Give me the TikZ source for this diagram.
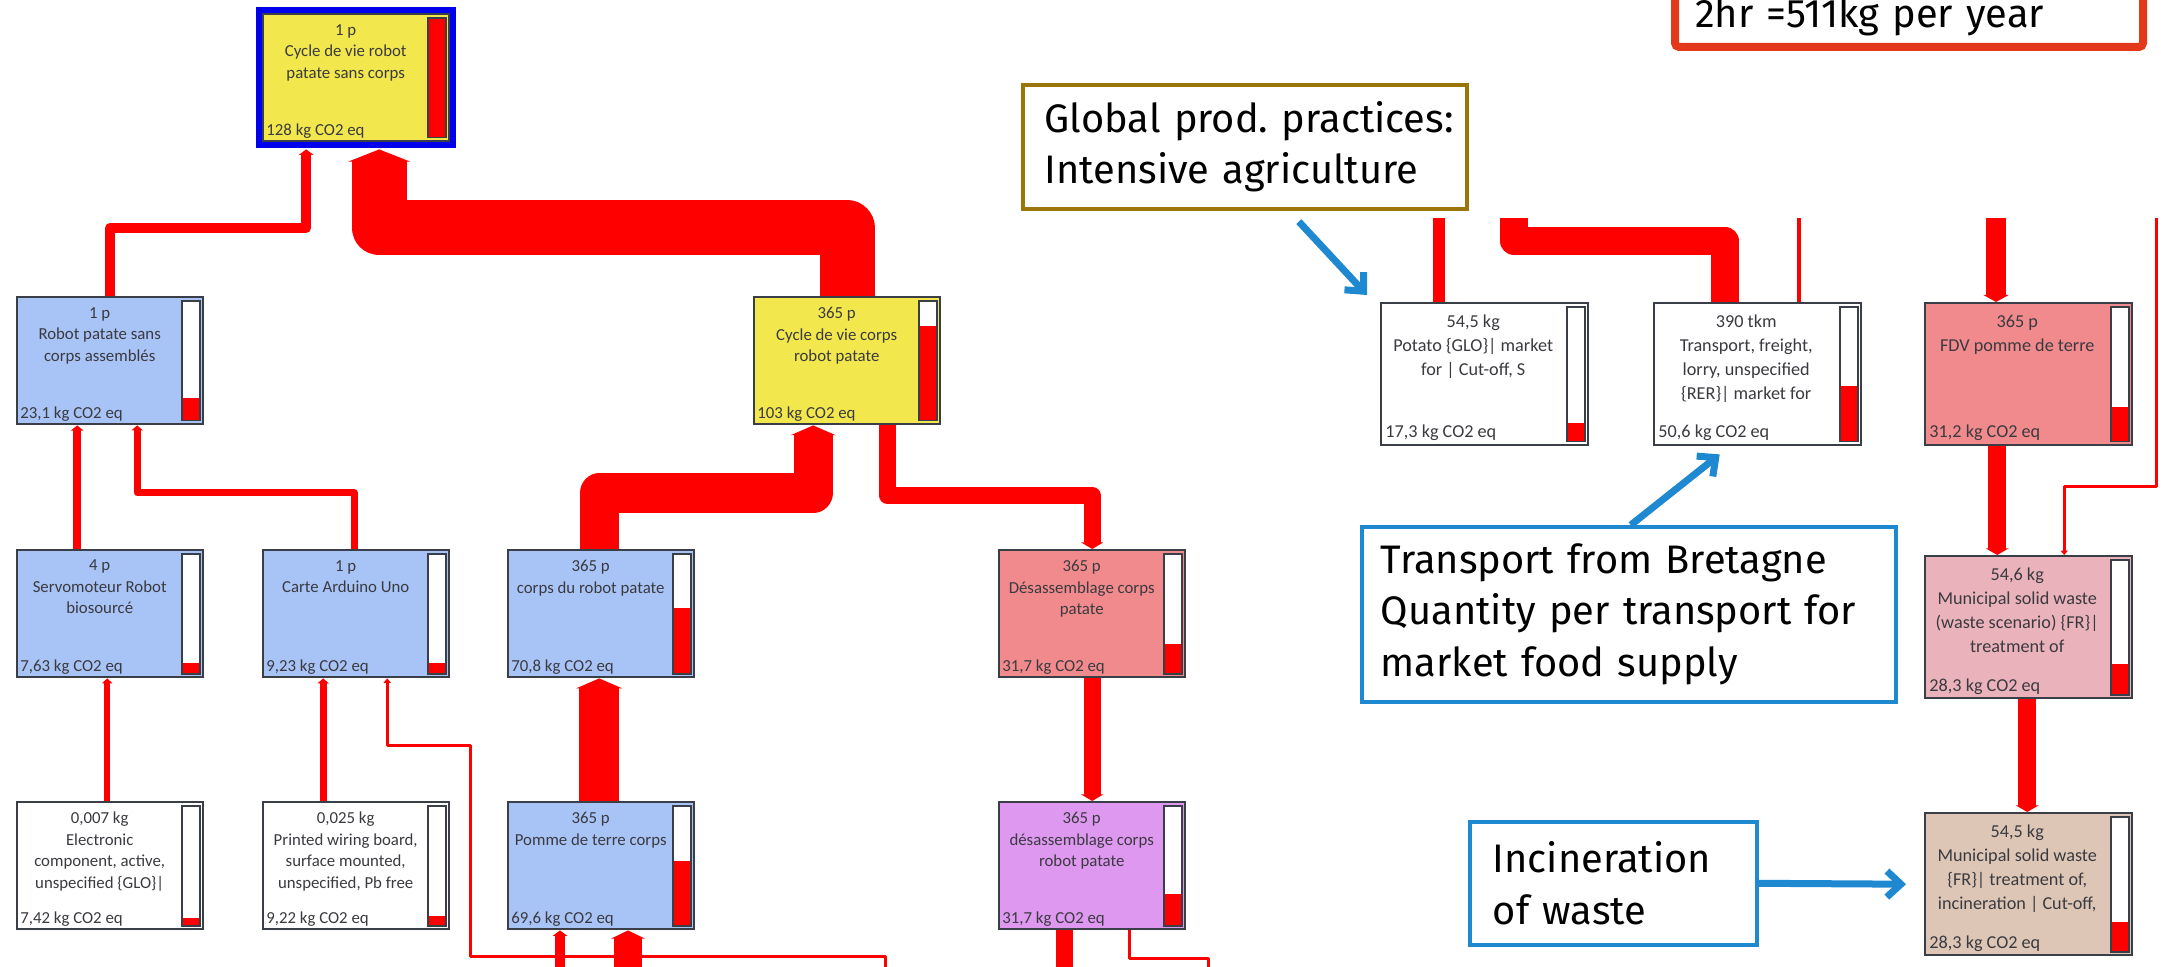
\documentclass[tikz,border=0pt]{standalone}
\usepackage{fontspec}
\setmainfont{Carlito}
\newfontfamily\notefont{Fira Sans}
\usetikzlibrary{arrows.meta, calc, positioning}
\frenchspacing

\definecolor{flowred}{RGB}{255,0,0}
\definecolor{boxline}{RGB}{58,62,70}
\definecolor{boxtext}{RGB}{58,58,64}
\definecolor{lcayellow}{RGB}{242,231,76}
\definecolor{lcablue}{RGB}{168,195,245}
\definecolor{lcasalmon}{RGB}{241,138,140}
\definecolor{lcapurple}{RGB}{222,152,240}
\definecolor{lcapink}{RGB}{234,178,186}
\definecolor{lcatan}{RGB}{221,198,182}
\definecolor{selblue}{RGB}{0,0,235}
\definecolor{noteblue}{RGB}{30,136,208}
\definecolor{noteolive}{RGB}{154,118,8}
\definecolor{notered}{RGB}{228,56,26}

\begin{document}
\begin{tikzpicture}[x=0.5pt,y=-0.5pt,
    proc/.style 2 args={draw=boxline,line width=1.2pt,fill=#1,anchor=north west,inner sep=0pt,
      path picture={
        \fill[white] ([xshift=-10.8pt,yshift=-1.8pt]path picture bounding box.north east) rectangle ([xshift=-1.8pt,yshift=1.8pt]path picture bounding box.south east);
        \fill[flowred] ([xshift=-10.8pt,yshift=1.8pt]path picture bounding box.south east) rectangle ($([xshift=-1.8pt,yshift=1.8pt]path picture bounding box.south east)!#2!([xshift=-1.8pt,yshift=-1.8pt]path picture bounding box.north east)$);
        \draw[boxline,line width=0.9pt] ([xshift=-10.8pt,yshift=-1.8pt]path picture bounding box.north east) rectangle ([xshift=-1.8pt,yshift=1.8pt]path picture bounding box.south east);
      }},
    sizea/.style={minimum width=93pt,minimum height=63.5pt},
    sizeb/.style={minimum width=103.5pt,minimum height=71pt},
    flow/.style={draw=flowred,line join=round},
    feed/.style={flow,-{Triangle[length=2pt 0.15,width=2pt 1.05]}},
    note/.style={draw=#1,line width=1.8pt,fill=white,anchor=north west,align=left,inner ysep=0pt,
      font={\notefont\fontsize{19.9}{25.8}\selectfont}},
    hint/.style={draw=noteblue,line width=3.5pt,-{Straight Barb[length=7pt,width=13pt]}}]
  \tikzset{desca/.style={anchor=north,align=center,inner sep=0pt,text=boxtext,
      font=\fontsize{8.4}{10.75}\selectfont,xshift=-5.25pt,yshift=-5.4pt},
    co2a/.style={anchor=base west,inner sep=0pt,text=boxtext,
      font=\fontsize{8.4}{10}\selectfont,xshift=2pt,yshift=3.5pt},
    descb/.style={anchor=north,align=center,inner sep=0pt,text=boxtext,
      font=\fontsize{9.1}{12}\selectfont,xshift=-5.75pt,yshift=-6.3pt},
    co2b/.style={anchor=base west,inner sep=0pt,text=boxtext,
      font=\fontsize{9.1}{10}\selectfont,xshift=2.5pt,yshift=4.2pt}}

  \path[use as bounding box] (0,0) rectangle (2161,967);
  \clip (0,0) rectangle (2161,967);

  % process tree, left part
  \node[proc={lcayellow}{1},sizea,preaction={draw=selblue,line width=7pt},
    label={[desca]north:{1 p\\Cycle de vie robot\\patate sans corps}},
    label={[co2a]south west:{128 kg CO2 eq}}] (cvrobot) at (262,13) {};

  \node[proc={lcablue}{0.19},sizea,
    label={[desca]north:{1 p\\Robot patate sans\\corps assemblés}},
    label={[co2a]south west:{23,1 kg CO2 eq}}] (robot) at (16,296) {};
  \node[proc={lcayellow}{0.79},sizea,
    label={[desca]north:{365 p\\Cycle de vie corps\\robot patate}},
    label={[co2a]south west:{103 kg CO2 eq}}] (cvcorps) at (753,296) {};

  \node[proc={lcablue}{0.09},sizea,
    label={[desca]north:{4 p\\Servomoteur Robot\\biosourcé}},
    label={[co2a]south west:{7,63 kg CO2 eq}}] (servo) at (16,549) {};
  \node[proc={lcablue}{0.09},sizea,
    label={[desca]north:{1 p\\Carte Arduino Uno}},
    label={[co2a]south west:{9,23 kg CO2 eq}}] (arduino) at (262,549) {};
  \node[proc={lcablue}{0.55},sizea,
    label={[desca]north:{365 p\\corps du robot patate}},
    label={[co2a]south west:{70,8 kg CO2 eq}}] (corps) at (507,549) {};
  \node[proc={lcasalmon}{0.25},sizea,
    label={[desca]north:{365 p\\Désassemblage corps\\patate}},
    label={[co2a]south west:{31,7 kg CO2 eq}}] (desass) at (998,549) {};

  \node[proc={white}{0.06},sizea,
    label={[desca]north:{0,007 kg\\Electronic\\component, active,\\unspecified \{GLO\}|}},
    label={[co2a]south west:{7,42 kg CO2 eq}}] (elec) at (16,801) {};
  \node[proc={white}{0.08},sizea,
    label={[desca]north:{0,025 kg\\Printed wiring board,\\surface mounted,\\unspecified, Pb free}},
    label={[co2a]south west:{9,22 kg CO2 eq}}] (printed) at (262,801) {};
  \node[proc={lcablue}{0.54},sizea,
    label={[desca]north:{365 p\\Pomme de terre corps}},
    label={[co2a]south west:{69,6 kg CO2 eq}}] (pomme) at (507,801) {};
  \node[proc={lcapurple}{0.26},sizea,
    label={[desca]north:{365 p\\désassemblage corps\\robot patate}},
    label={[co2a]south west:{31,7 kg CO2 eq}}] (desrobot) at (998,801) {};

  % process tree, right part
  \node[proc={white}{0.14},sizeb,
    label={[descb]north:{54,5 kg\\Potato \{GLO\}| market\\for | Cut-off, S}},
    label={[co2b]south west:{17,3 kg CO2 eq}}] (potato) at (1380,302) {};
  \node[proc={white}{0.41},sizeb,
    label={[descb]north:{390 tkm\\Transport, freight,\\lorry, unspecified\\\{RER\}| market for}},
    label={[co2b]south west:{50,6 kg CO2 eq}}] (transport) at (1653,302) {};
  \node[proc={lcasalmon}{0.26},sizeb,
    label={[descb]north:{365 p\\FDV pomme de terre}},
    label={[co2b]south west:{31,2 kg CO2 eq}}] (fdv) at (1924,302) {};
  \node[proc={lcapink}{0.23},sizeb,
    label={[descb]north:{54,6 kg\\Municipal solid waste\\(waste scenario) \{FR\}|\\treatment of}},
    label={[co2b]south west:{28,3 kg CO2 eq}}] (msw) at (1924,555) {};
  \node[proc={lcatan}{0.22},sizeb,
    label={[descb]north:{54,5 kg\\Municipal solid waste\\\{FR\}| treatment of,\\incineration | Cut-off,}},
    label={[co2b]south west:{28,3 kg CO2 eq}}] (incin) at (1924,812) {};

  % free ends of flows leaving the picture
  \coordinate (arin) at (885,967);
  \coordinate (pin1) at (560,967);
  \coordinate (pin2) at (628,967);
  \coordinate (dout1) at (1064,967);
  \coordinate (dout2) at (1208,967);
  \coordinate (trout) at (1514,218);
  \coordinate (poout) at (1439,218);
  \coordinate (trin) at (1799,218);
  \coordinate (fdvin) at (1996,218);
  \coordinate (mswin) at (2156,218);

  % flows
  \draw[feed,line width=5pt] (robot.north) -- ++(0,-68) -| ([xshift=-25pt,yshift=-3.5pt]cvrobot.south);
  \draw[feed,line width=27.5pt] (cvcorps.north) -- ++(0,-68) -| ([xshift=11.5pt,yshift=-3.5pt]cvrobot.south);

  \draw[feed,line width=4pt] ([xshift=-16.5pt]servo.north) -- ([xshift=-16.5pt]robot.south);
  \draw[feed,line width=3.5pt] ([xshift=-1pt]arduino.north) -- ++(0,-56) -| ([xshift=13.5pt]robot.south);
  \draw[feed,line width=19.5pt] ([xshift=-1pt]corps.north) -- ++(0,-56) -| ([xshift=-17pt]cvcorps.south);
  \draw[feed,line width=8.5pt] ([xshift=20pt]cvcorps.south) -- ++(0,70) -| (desass.north);

  \draw[feed,line width=3pt] ([xshift=-1.5pt]elec.north) -- ([xshift=-1.5pt]servo.south);
  \draw[feed,line width=3.5pt] ([xshift=-16.5pt]printed.north) -- ([xshift=-16.5pt]arduino.south);
  \draw[feed,line width=1.5pt] (arin) -- ++(0,-11) -| ++(-415,-211) -| ([xshift=15.5pt]arduino.south);
  \draw[feed,line width=20pt] ([xshift=-1pt]pomme.north) -- ([xshift=-1pt]corps.south);
  \draw[feed,line width=8.5pt] (desass.south) -- (desrobot.north);

  \draw[feed,line width=5pt] (pin1) -- (pin1 |- pomme.south);
  \draw[feed,line width=14pt] (pin2) -- (pin2 |- pomme.south);
  \draw[flow,line width=8.5pt] (dout1 |- desrobot.south) -- (dout1);
  \draw[flow,line width=1.5pt] ([xshift=18.5pt]desrobot.south) -- ++(0,28) -| (dout2);

  \draw[flow,line width=14pt] ([xshift=-16.25pt]transport.north) -- ++(0,-61) -| (trout);
  \draw[flow,line width=6pt] (poout |- potato.north) -- (poout);
  \draw[flow,line width=1.6pt] (trin |- transport.north) -- (trin);
  \draw[feed,line width=10pt] (fdvin) -- (fdvin |- fdv.north);
  \draw[feed,line width=9pt] ([xshift=-15.75pt]fdv.south) -- ([xshift=-15.75pt]msw.north);
  \draw[feed,line width=9pt] ([xshift=-0.75pt]msw.south) -- ([xshift=-0.75pt]incin.north);
  \draw[feed,line width=1.5pt] (mswin) -- ++(0,269) -| ([xshift=17.75pt]msw.north);

  % remarks
  \node[note=noteolive,minimum width=222pt,minimum height=62pt,inner xsep=11pt,text width=200pt]
    (global) at (1021,83) {\mbox{Global prod. practices:}\\\mbox{Intensive agriculture}};
  \node[note=noteblue,minimum width=267pt,minimum height=87.5pt,inner xsep=9.5pt,text width=248pt]
    (trnote) at (1360,525) {\mbox{Transport from Bretagne}\\\mbox{Quantity per transport for}\\\mbox{market food supply}};
  \node[note=noteblue,minimum width=143.5pt,minimum height=61.5pt,inner xsep=11.5pt,text width=120.5pt]
    (incnote) at (1468,820) {\mbox{Incineration}\\\mbox{of waste}};
  \node[note=notered,line width=4pt,rounded corners=2pt,anchor=south west,inner xsep=10pt,
    inner ysep=9.5pt,text depth=0pt,text width=214pt] (yearly) at (1671,51) {\mbox{2hr =511kg per year}};

  \draw[hint] ([xshift=27pt,yshift=-5.5pt]global.south) -- ([xshift=-6.5pt,yshift=3.5pt]potato.north west);
  \draw[hint] ([xshift=1pt]trnote.north) -- ([xshift=-19pt,yshift=-4pt]transport.south);
  \draw[hint] (incnote.east) -- ([xshift=-9pt]incin.west);
\end{tikzpicture}
\end{document}
